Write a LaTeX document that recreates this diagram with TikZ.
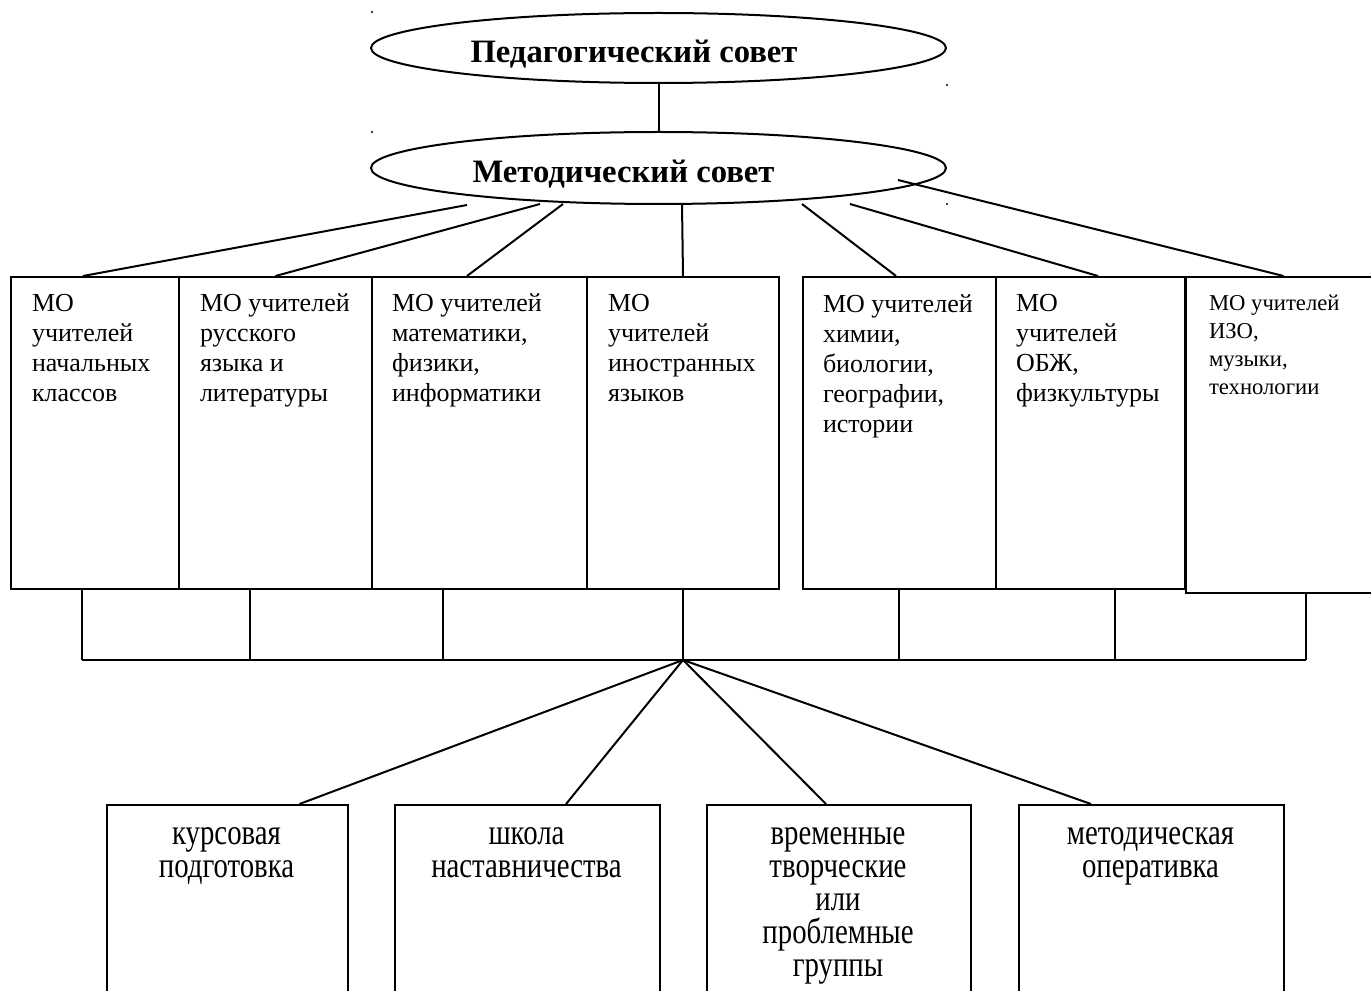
\documentclass[tikz,border=0pt]{standalone}
\usepackage{fontspec}
\setmainfont{Liberation Serif}
\newfontfamily\tallfont[FakeStretch=0.8]{Liberation Serif}
\usetikzlibrary{shapes.geometric}

\tikzset{every picture/.style={line width=1.5pt}}
\tikzset{
  council/.style={draw, ellipse, inner sep=0pt, minimum width=431.25pt},
  councillabel/.style={anchor=base, inner sep=0pt, font=\fontsize{24.5}{28}\selectfont\bfseries},
  mobox/.style={draw, rectangle, inner sep=0pt, anchor=north west},
  motext/.style={anchor=north west, inner sep=0pt, align=left, font=\fontsize{19.5}{22.5}\selectfont},
  formbox/.style={draw, rectangle, inner sep=0pt, anchor=north west, minimum height=147pt},
  formtext/.style={anchor=north, inner sep=0pt, align=center, font=\tallfont\fontsize{27}{24.75}\selectfont},
}

\begin{document}
\begin{tikzpicture}[x=0.75pt,y=0.75pt,yscale=-1,xscale=1]
        \useasboundingbox (0,0) rectangle (1371,991);

        %Shape: Ellipse [ped]
        \node[council, minimum height=52.5pt] (ped) at (658.5,48) {};
        %Shape: Ellipse [met]
        \node[council, minimum height=54pt] (met) at (658.5,168) {};
        % Text Node
        \node[councillabel] (pedt) at (634,63) {Педагогический совет};
        % Text Node
        \node[councillabel] (mett) at (623.5,183) {Методический совет};
        %Straight Lines
        \draw (ped) -- (met);

        %stray dots
        \fill (372,12) circle (1.2);
        \fill (372,132) circle (1.2);
        \fill (947,85) circle (1.2);
        \fill (947,204) circle (1.2);

        %Shape: Rectangle [MO row]
        \node[mobox, minimum width=126pt, minimum height=234pt] (mo1) at (10,276) {};
        \node[mobox, minimum width=144.75pt, minimum height=234pt] (mo2) at (178,276) {};
        \node[mobox, minimum width=161.25pt, minimum height=234pt] (mo3) at (371,276) {};
        \node[mobox, minimum width=144pt, minimum height=234pt] (mo4) at (586,276) {};
        \node[mobox, minimum width=144.75pt, minimum height=234pt] (mo5) at (802,276) {};
        \node[mobox, minimum width=141.75pt, minimum height=234pt] (mo6) at (995,276) {};
        \node[mobox, minimum width=146.25pt, minimum height=237pt] (mo7) at (1185,276) {};

        % Text Node
        \node[motext] (mo1t) at (31,290) {\strut МО\\учителей\\начальных\\классов};
        % Text Node
        \node[motext] (mo2t) at (199,290) {\strut МО учителей\\русского\\языка и\\литературы};
        % Text Node
        \node[motext] (mo3t) at (391,290) {\strut МО учителей\\математики,\\физики,\\информатики};
        % Text Node
        \node[motext] (mo4t) at (607,290) {\strut МО\\учителей\\иностранных\\языков};
        % Text Node
        \node[motext] (mo5t) at (822,290) {\strut МО учителей\\химии,\\биологии,\\географии,\\истории};
        % Text Node
        \node[motext] (mo6t) at (1015,290) {\strut МО\\учителей\\ОБЖ,\\физкультуры};
        % Text Node
        \node[motext, font=\fontsize{17}{21}\selectfont] (mo7t) at (1208,290) {\strut МО учителей\\ИЗО,\\музыки,\\технологии};

        %free ends under the council
        \coordinate (t1) at (467,205);
        \coordinate (t2) at (540,204);
        \coordinate (t3) at (563,204);
        \coordinate (t4) at (682,204);
        \coordinate (t5) at (802,204);
        \coordinate (t6) at (850,204);
        \coordinate (t7) at (898,180);
        %Straight Lines
        \draw (t1) -- ([xshift=-9pt]mo1.north);
        \draw (t2) -- (mo2.north);
        \draw (t3) -- ([xshift=-9.4pt]mo3.north);
        \draw (t4) -- (mo4.north);
        \draw (t5) -- ([xshift=-2.6pt]mo5.north);
        \draw (t6) -- ([xshift=5.6pt]mo6.north);
        \draw (t7) -- (mo7.north);

        %bus under the MO row
        \coordinate (d1) at (82,660);
        \coordinate (d2) at (250,660);
        \coordinate (d3) at (443,660);
        \coordinate (d4) at (683,660);
        \coordinate (d5) at (899,660);
        \coordinate (d6) at (1115,660);
        \coordinate (d7) at (1306,660);
        \foreach \i in {1,...,7}
          \draw (d\i |- mo\i.south) -- (d\i);
        \draw (d1) -- (d7);

        %Shape: Rectangle [forms]
        \node[formbox, minimum width=180.75pt] (kurs) at (106,804) {};
        \node[formbox, minimum width=198.75pt] (shk) at (394,804) {};
        \node[formbox, minimum width=198pt] (vrem) at (706,804) {};
        \node[formbox, minimum width=198.75pt] (oper) at (1018,804) {};

        % Text Node
        \node[formtext] (kurst) at (226.5,820) {\strut курсовая\\подготовка};
        % Text Node
        \node[formtext] (shkt) at (526.5,820) {\strut школа\\наставничества};
        % Text Node
        \node[formtext] (vremt) at (838,820) {\strut временные\\творческие\\или\\проблемные\\группы};
        % Text Node
        \node[formtext] (opert) at (1150.5,820) {\strut методическая\\оперативка};

        %Straight Lines
        \draw (d4) -- ([xshift=54pt]kurs.north);
        \draw (d4) -- ([xshift=28.9pt]shk.north);
        \draw (d4) -- ([xshift=-9.75pt]vrem.north);
        \draw (d4) -- ([xshift=-45.4pt]oper.north);

\end{tikzpicture}
\end{document}
